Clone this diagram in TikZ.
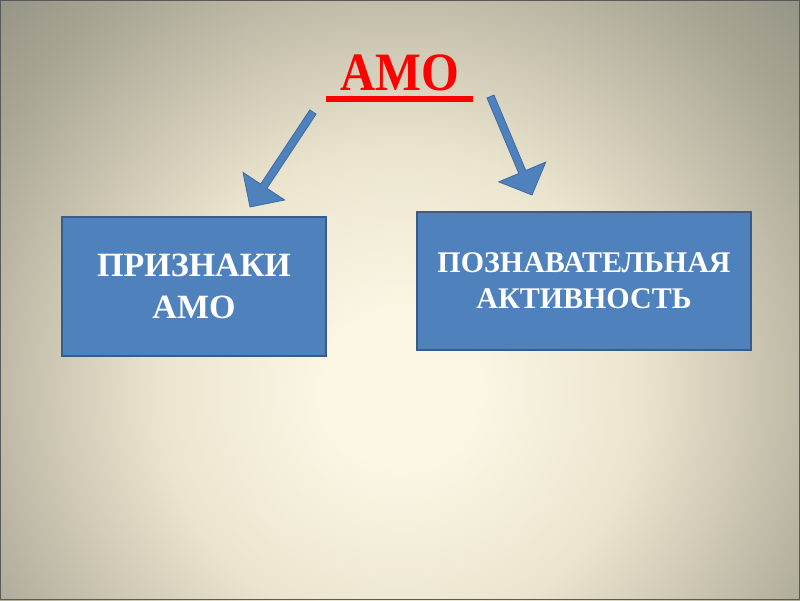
\documentclass[tikz,border=0pt]{standalone}
\usepackage{fontspec}
\setmainfont{Liberation Serif}
\usetikzlibrary{calc}
\definecolor{bgA}{HTML}{FBF7E4}
\definecolor{bgB}{HTML}{EBE5CF}
\definecolor{bgC}{HTML}{C6C1AD}
\definecolor{bgD}{HTML}{A7A493}
\definecolor{bgE}{HTML}{8E8C7F}
\definecolor{boxfill}{HTML}{4F81BD}
\definecolor{boxline}{HTML}{385D8A}
\definecolor{arrline}{HTML}{3E6BA6}
\definecolor{titlered}{HTML}{FF0000}
\pgfdeclareradialshading{bgshade}{\pgfpoint{0bp}{0bp}}{color(0bp)=(bgA); color(6bp)=(bgA); color(20bp)=(bgB); color(31bp)=(bgC); color(40bp)=(bgD); color(50bp)=(bgE)}
\tikzset{
  infobox/.style={draw=boxline, line width=1.5pt, fill=boxfill, text=white, align=center, inner sep=0pt},
  blockarrow/.style={fill=boxfill, draw=arrline, line width=0.8pt, line join=miter},
}
\begin{document}
\begin{tikzpicture}[x=1pt, y=-1pt]
\useasboundingbox (0,0) rectangle (800,600);
\begin{scope}
  \clip (0,0) rectangle (800,600);
  \node[inner sep=0pt, outer sep=0pt] (bg) at (400,390) {\scalebox{12}{\pgfuseshading{bgshade}}};
\end{scope}
\draw[color=black!65, line width=1pt] (0.5,0.5) rectangle (799.5,599.5);

% title
\node[anchor=base, text=titlered, inner sep=0pt, font=\fontsize{54}{60}\selectfont\bfseries] (title) at (399.5,90.5) {\scalebox{0.9}[1]{АМО}};
\fill[titlered] ($(title.base)+(-73.5,5.5)$) rectangle ($(title.base)+(73.5,11)$);

% boxes
\node[infobox, minimum width=264pt, minimum height=139pt, font=\fontsize{34}{42}\selectfont\bfseries] (left) at (194,286.5) {ПРИЗНАКИ\\АМО};
\node[infobox, minimum width=334pt, minimum height=138pt, font=\fontsize{30}{36}\selectfont\bfseries] (right) at (584,281) {ПОЗНАВАТЕЛЬНАЯ\\АКТИВНОСТЬ};

% block arrows
\coordinate (ls) at (313,112);
\coordinate (lt) at (250,207);
\coordinate (lb) at ($(lt)!25pt!(ls)$);
\draw[blockarrow] ($(ls)!3.8pt!90:(lt)$) -- ($(lb)!3.8pt!-90:(ls)$) -- ($(lb)!25pt!-90:(ls)$) -- (lt) -- ($(lb)!25pt!90:(ls)$) -- ($(lb)!3.8pt!90:(ls)$) -- ($(ls)!3.8pt!-90:(lt)$) -- cycle;

\coordinate (rs) at (490.5,96.5);
\coordinate (rt) at (532,195);
\coordinate (rb) at ($(rt)!25pt!(rs)$);
\draw[blockarrow] ($(rs)!3.8pt!90:(rt)$) -- ($(rb)!3.8pt!-90:(rs)$) -- ($(rb)!25.5pt!-90:(rs)$) -- (rt) -- ($(rb)!25.5pt!90:(rs)$) -- ($(rb)!3.8pt!90:(rs)$) -- ($(rs)!3.8pt!-90:(rt)$) -- cycle;
\end{tikzpicture}
\end{document}
